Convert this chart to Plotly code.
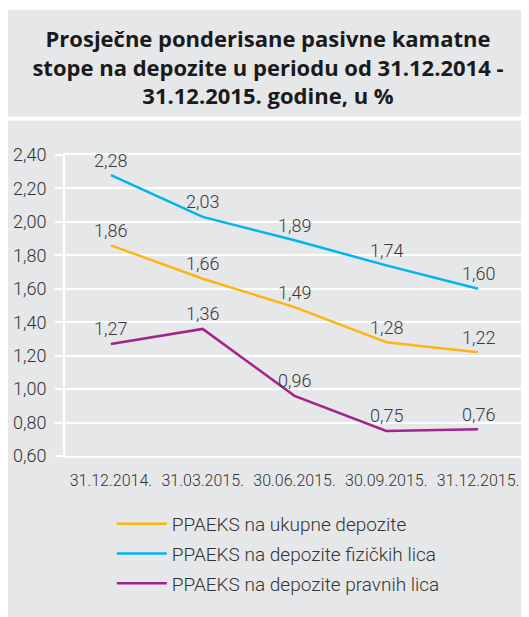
import plotly.graph_objects as go

categories = ["31.12.2014.", "31.03.2015.", "30.06.2015.", "30.09.2015.", "31.12.2015."]
ukupne = [1.86, 1.66, 1.49, 1.28, 1.22]
fizicka = [2.28, 2.03, 1.89, 1.74, 1.60]
pravna = [1.27, 1.36, 0.96, 0.75, 0.76]
y_ticks = [0.6, 0.8, 1.0, 1.2, 1.4, 1.6, 1.8, 2.0, 2.2, 2.4]

series = [
    ("PPAEKS na ukupne depozite", ukupne, "#fdb515"),
    ("PPAEKS na depozite fizičkih lica", fizicka, "#00b5ef"),
    ("PPAEKS na depozite pravnih lica", pravna, "#a2238d"),
]

# page has an 8px body margin; figure coordinates = page coordinates - 8
W, H = 521, 609
L, R, T, B = 57, 3, 147, 161
GRAY = "#e6e7e8"
FONT = "Roboto"
TFONT = "Open Sans"

def px_x(px):
    return (px - L) / (W - L - R)

def px_y(py):
    return (H - B - py) / (H - T - B)

fig = go.Figure()
annotations = []
for i, (name, vals, color) in enumerate(series):
    fig.add_trace(go.Scatter(
        x=categories, y=vals, name=name, mode="lines",
        line=dict(color=color, width=2.5),
        legendgroup=str(i),
        hoverinfo="skip",
    ))
    for c, v in zip(categories, vals):
        annotations.append(dict(
            x=c, y=v, xref="x", yref="y", text=f"{v:.2f}".replace(".", ","),
            showarrow=False, yshift=15, yanchor="middle",
            font=dict(family=FONT, size=18, color="#3a3a3a", weight=300),
        ))

shapes = [
    dict(type="rect", xref="paper", yref="paper", x0=px_x(-1), x1=px_x(W + 2), y0=px_y(108.5), y1=px_y(2),
         fillcolor=GRAY, line_width=0, layer="below"),
    dict(type="rect", xref="paper", yref="paper", x0=px_x(-1), x1=px_x(W + 2), y0=px_y(H + 2), y1=px_y(112.5),
         fillcolor=GRAY, line_width=0, layer="below"),
]

fig.update_layout(
    width=W, height=H,
    margin=dict(l=L, r=R, t=T, b=B, pad=0),
    paper_bgcolor="white", plot_bgcolor=GRAY,
    separators=",.",
    font=dict(family=FONT, color="#333333"),
    title=dict(
        text="Prosječne ponderisane pasivne kamatne<br>stope na depozite u periodu od 31.12.2014 -<br>31.12.2015. godine, u %",
        x=260 / W, xanchor="center", xref="container",
        y=1 - 39 / H, yanchor="middle", yref="container",
        font=dict(family=TFONT, size=22, color="#1a1a1a", weight="bold"),
    ),
    showlegend=True,
    legend=dict(
        x=px_x(104), y=px_y(497), xanchor="left", yanchor="top",
        bgcolor="rgba(0,0,0,0)", font=dict(family=FONT, size=19, color="#333333", weight=300),
        tracegroupgap=2, itemwidth=50,
    ),
    shapes=shapes,
    annotations=annotations,
)
fig.update_xaxes(
    type="category", showgrid=False, showline=True, mirror=True, linecolor="white", linewidth=2,
    ticks="", tickfont=dict(family=FONT, size=16, color="#333333", weight=300),
    ticklabelstandoff=9, range=[-0.5, 4.5], fixedrange=True,
)
fig.update_yaxes(
    range=[0.6, 2.4], tickvals=y_ticks, tickformat=".2f",
    showgrid=True, gridcolor="white", gridwidth=2,
    showline=True, mirror=True, linecolor="white", linewidth=2,
    ticks="outside", ticklen=8, tickcolor="white", tickwidth=2,
    tickfont=dict(family=FONT, size=18, color="#333333", weight=300),
    ticklabelstandoff=5,
    zeroline=False, fixedrange=True,
)

fig.write_html("out.html")
